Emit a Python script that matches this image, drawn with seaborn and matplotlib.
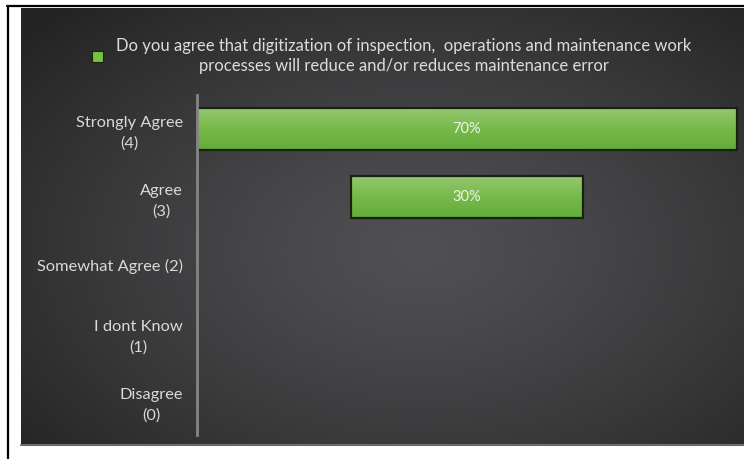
import numpy as np
import pandas as pd
import matplotlib
matplotlib.use("Agg")
import matplotlib.pyplot as plt
import seaborn as sns
from matplotlib.patches import Patch
from matplotlib.lines import Line2D
from matplotlib.colors import LinearSegmentedColormap

# Survey answers (top to bottom) and the share of respondents for each
categories = ["Strongly Agree\n(4)", "Agree\n(3)", "Somewhat Agree (2)",
              "I dont Know\n(1)", "Disagree\n(0)"]
shares = [70, 30, 0, 0, 0]
# hidden leading segment that floats each bar off the axis
offsets = [0, 20, 0, 0, 0]
value_labels = ["70%", "30%", "", "", ""]
series_name = ("Do you agree that digitization of inspection,  operations and maintenance work\n"
               "processes will reduce and/or reduces maintenance error")

sns.set_theme(style="white")
plt.rcParams["font.family"] = ["Lato", "DejaVu Sans"]

W, H = 744, 459
fig = plt.figure(figsize=(W / 100, H / 100), dpi=100)
fig.patch.set_facecolor("white")


def fx(px):
    return px / W


def fy(py):
    return 1 - py / H


# dark backdrop with a soft radial glow
bg_left, bg_top, bg_right, bg_bottom = 21, 8, 744, 445
bg = fig.add_axes([fx(bg_left), fy(bg_bottom), fx(bg_right) - fx(bg_left), fy(bg_top) - fy(bg_bottom)])
bw, bh = bg_right - bg_left, bg_bottom - bg_top
yy, xx = np.mgrid[0:bh, 0:bw]
cx, cy = 420 - bg_left, 250 - bg_top
r = np.sqrt(((xx - cx) / 520.0) ** 2 + ((yy - cy) / 330.0) ** 2)
r = np.clip(r, 0, 1) ** 1.3
inner, outer = 80 / 255, 36 / 255
shade = inner + (outer - inner) * r
bg.imshow(np.dstack([shade, shade, shade * 1.03]).clip(0, 1), aspect="auto",
          interpolation="bilinear", extent=(0, 1, 0, 1))
bg.set_axis_off()
fig.add_artist(Line2D([fx(bg_left), fx(bg_right)], [fy(444.5), fy(444.5)],
                      color="#6a6a6a", lw=1.5))

# page frame lines
fig.add_artist(Line2D([fx(7.5), fx(7.5)], [fy(5.5), 0], color="black", lw=1.6))
fig.add_artist(Line2D([fx(7), 1], [fy(5.5), fy(5.5)], color="black", lw=1.6))

# bar chart
ax = fig.add_axes([fx(197), fy(435), fx(740) - fx(197), fy(95) - fy(435)])
ax.set_facecolor("none")
df = pd.DataFrame({"category": categories, "share": shares})
green = "#6ab33e"
sns.barplot(data=df, x="share", y="category", orient="h", ax=ax, color=green,
            width=0.63, edgecolor="#16240d", linewidth=1.6, saturation=1)

grad = LinearSegmentedColormap.from_list("bar", ["#96c873", "#76ba4a", "#64ab3a"])
for patch, off in zip(ax.patches, offsets):
    patch.set_x(off)
    if patch.get_width() <= 0:
        patch.set_visible(False)
        continue
    x0, y0 = patch.get_x(), patch.get_y()
    w, h = patch.get_width(), patch.get_height()
    ramp = np.linspace(0, 1, 64).reshape(-1, 1)
    ax.imshow(ramp, cmap=grad, aspect="auto", extent=(x0, x0 + w, y0 + h, y0),
              zorder=patch.get_zorder() - 0.1, interpolation="bilinear")
    patch.set_facecolor("none")

for i, (off, v, lab) in enumerate(zip(offsets, shares, value_labels)):
    if lab:
        ax.text(off + v / 2, i, lab, ha="center", va="center", color="#eef5e8",
                fontsize=10.5, zorder=5)

ax.set_xlim(0, 70.4)
ax.set_ylim(4.5, -0.5)
ax.set_xlabel("")
ax.set_ylabel("")
ax.set_xticks([])
ax.tick_params(axis="y", length=0, pad=10, labelsize=11.8, labelcolor="#d9d9d9")
for t in ax.get_yticklabels():
    t.set_multialignment("center")
    t.set_linespacing(1.5)
for side in ["top", "right", "bottom"]:
    ax.spines[side].set_visible(False)
ax.spines["left"].set_color("#858585")
ax.spines["left"].set_linewidth(2)

leg = fig.legend(handles=[Patch(facecolor="#78c043", edgecolor="#16240d", lw=0.8)],
                 labels=[series_name], loc="center", bbox_to_anchor=(fx(392), fy(56)),
                 frameon=False, handlelength=0.65, handleheight=0.65, handletextpad=0.8,
                 fontsize=12, labelcolor="#dcdcdc")
leg.get_texts()[0].set_multialignment("center")
leg.get_texts()[0].set_linespacing(1.35)

fig.savefig("out.png", dpi=100, facecolor="white")
